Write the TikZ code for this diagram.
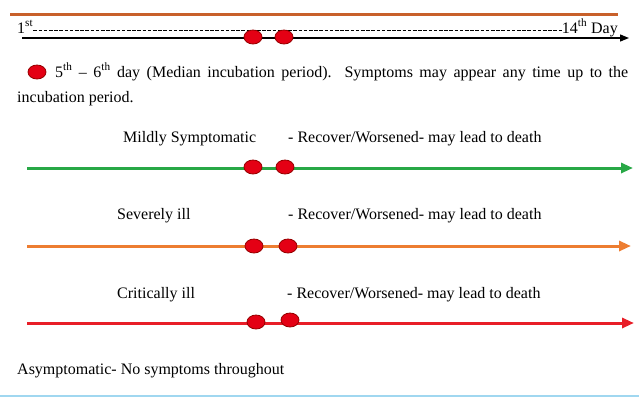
\documentclass[tikz,border=0pt]{standalone}
\usepackage{fontspec}
\setmainfont{Liberation Serif}
\usepackage{xcolor}
\usetikzlibrary{shapes.geometric, positioning, arrows.meta}

\definecolor{barbrown}{RGB}{200,96,42}
\definecolor{mildgreen}{RGB}{40,168,70}
\definecolor{severeorange}{RGB}{237,125,49}
\definecolor{criticalred}{RGB}{232,30,40}
\definecolor{dotred}{RGB}{228,0,20}
\definecolor{dotedge}{RGB}{150,0,0}
\definecolor{rulblue}{RGB}{160,215,240}

\tikzset{
  incdot/.style={ellipse, fill=dotred, draw=dotedge, line width=0.8pt,
    minimum width=18pt, minimum height=14pt, inner sep=0pt},
  txt/.style={font=\fontsize{16}{19}\selectfont, inner sep=0pt, anchor=base west},
  stage/.style={line width=3pt, -{Triangle[length=12pt, width=10pt]}}
}

\begin{document}
\begin{tikzpicture}[x=1pt,y=-1pt]
        % Frame
        \useasboundingbox (0,0) rectangle (639,405);

        % Top bar
        \draw[barbrown, line width=3pt] (10,14) -- (618,14);

        % Day axis
        \node[txt] (first) at (17,33) {1\textsuperscript{st}};
        \node[txt, anchor=base east] (last) at (618,33) {14\textsuperscript{th} Day};
        \draw[dashed, dash pattern=on 3.6pt off 1.6pt, line width=0.9pt]
            (first.east |- 0,30) -- (last.west |- 0,30);
        \coordinate (axstart) at (22,38);
        \coordinate (axend) at (629,38);
        \draw[line width=1.3pt, -{Triangle[length=9pt, width=7pt]}] (axstart) -- (axend);
        \node[incdot] (d1) at (253,37) {};
        \node[incdot] (d2) at (284,37) {};

        % Legend
        \node[incdot] (key) at (37,72) {};
        \node[txt] (keytext) at (55,77)
            {\makebox[573pt][s]{5\textsuperscript{th} -- 6\textsuperscript{th} day (Median incubation period). Symptoms may appear any time up to the}};
        \node[txt] (keytext2) at (17,102) {incubation period.};

        % Mildly symptomatic
        \node[txt] (mild) at (123,142) {Mildly Symptomatic};
        \node[txt] (mildout) at (288,142) {- Recover/Worsened- may lead to death};
        \coordinate (mstart) at (27,168);
        \coordinate (mend) at (633,168);
        \draw[stage, mildgreen] (mstart) -- (mend);
        \node[incdot] (m1) at (253,167) {};
        \node[incdot] (m2) at (285,167) {};

        % Severely ill
        \node[txt] (severe) at (117,219) {Severely ill};
        \node[txt] (severeout) at (288,219) {- Recover/Worsened- may lead to death};
        \coordinate (sstart) at (27,246);
        \coordinate (send) at (631,246);
        \draw[stage, severeorange] (sstart) -- (send);
        \node[incdot] (s1) at (254,246) {};
        \node[incdot] (s2) at (288,246) {};

        % Critically ill
        \node[txt] (critical) at (117,298) {Critically ill};
        \node[txt] (criticalout) at (287,298) {- Recover/Worsened- may lead to death};
        \coordinate (cstart) at (27,323);
        \coordinate (cend) at (634,323);
        \draw[stage, criticalred] (cstart) -- (cend);
        \node[incdot] (c1) at (256,322) {};
        \node[incdot] (c2) at (290,320) {};

        % Asymptomatic
        \node[txt] (asym) at (17,374) {Asymptomatic- No symptoms throughout};

        % Bottom rule
        \draw[rulblue, line width=1.2pt] (0,396) -- (639,396);

    \end{tikzpicture}
\end{document}
